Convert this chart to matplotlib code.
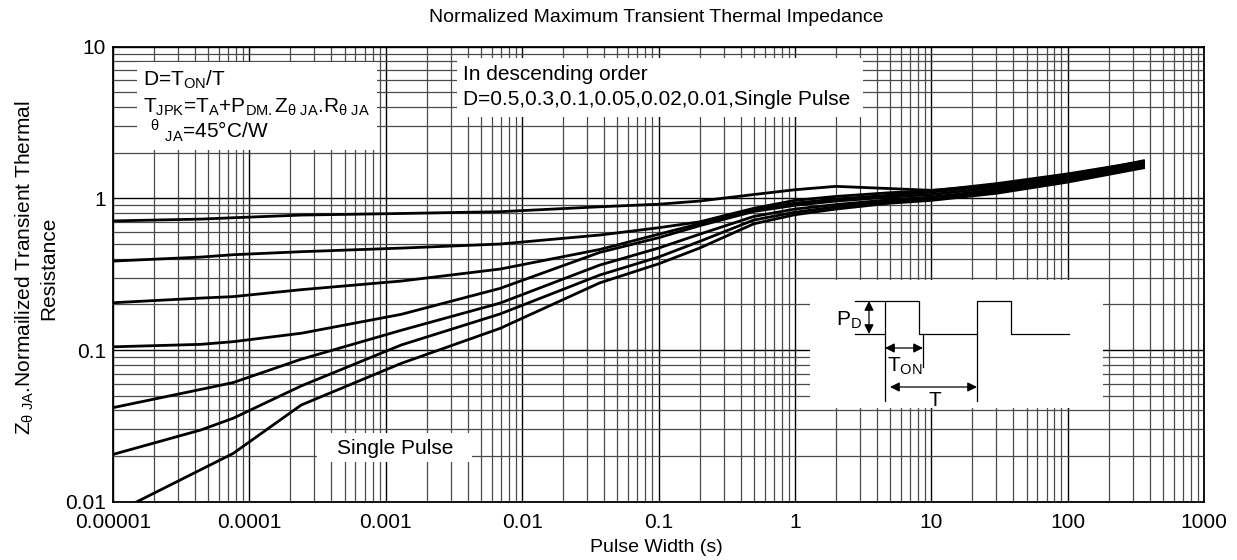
import numpy as np
import matplotlib.pyplot as plt
from matplotlib.ticker import LogLocator, NullFormatter
from matplotlib.patches import Rectangle

plt.rcParams['font.family'] = ['Liberation Sans', 'DejaVu Sans']
plt.rcParams['mathtext.fontset'] = 'custom'
plt.rcParams['mathtext.rm'] = 'Liberation Sans'
plt.rcParams['mathtext.it'] = 'Liberation Sans:italic'
plt.rcParams['mathtext.sf'] = 'Liberation Sans'

# pulse width (s)
pulse_w = [1e-5, 4.4e-5, 7.6e-5, 2.4e-4, 1.3e-3, 6.9e-3, 0.037, 0.1, 0.2, 0.5, 1, 2, 5, 10, 30, 100, 360]
z_d050 = [0.71, 0.73, 0.745, 0.776, 0.795, 0.817, 0.88, 0.915, 0.96, 1.06, 1.14, 1.2, 1.16, 1.13, 1.22, 1.40, 1.77]
z_d030 = [0.386, 0.41, 0.425, 0.445, 0.47, 0.50, 0.573, 0.64, 0.70, 0.86, 0.97, 1.03, 1.09, 1.12, 1.25, 1.45, 1.75]
z_d010 = [0.205, 0.22, 0.225, 0.25, 0.285, 0.342, 0.46, 0.58, 0.68, 0.84, 0.93, 0.99, 1.05, 1.1, 1.22, 1.42, 1.72]
z_d005 = [0.105, 0.109, 0.1135, 0.129, 0.172, 0.255, 0.44, 0.55, 0.66, 0.82, 0.90, 0.96, 1.02, 1.06, 1.18, 1.38, 1.68]
z_d002 = [0.0417, 0.055, 0.061, 0.087, 0.135, 0.204, 0.363, 0.47, 0.58, 0.76, 0.85, 0.91, 0.98, 1.02, 1.14, 1.34, 1.65]
z_d001 = [0.0205, 0.0297, 0.0355, 0.058, 0.108, 0.173, 0.312, 0.41, 0.52, 0.72, 0.81, 0.88, 0.95, 0.99, 1.11, 1.31, 1.62]

pulse_w_single = [1.5e-5, 7.6e-5, 2.4e-4, 1.3e-3, 6.9e-3, 0.037, 0.1, 0.2, 0.5, 1, 2, 5, 10, 30, 100, 360]
z_single = [0.01, 0.0208, 0.0434, 0.0817, 0.139, 0.277, 0.37, 0.47, 0.68, 0.78, 0.85, 0.93, 0.97, 1.08, 1.28, 1.59]

xtick_vals = [1e-5, 1e-4, 1e-3, 1e-2, 1e-1, 1, 10, 100, 1000]
xtick_labels = ['0.00001', '0.0001', '0.001', '0.01', '0.1', '1', '10', '100', '1000']
ytick_vals = [0.01, 0.1, 1, 10]
ytick_labels = ['0.01', '0.1', '1', '10']

W, H = 1237, 560
FS = 15
fig = plt.figure(figsize=(W / 100, H / 100), dpi=100)
ax = fig.add_axes([113 / W, (H - 501.7) / H, 1091 / W, 455 / H])
ax.set_xscale('log')
ax.set_yscale('log')
ax.set_xlim(1e-5, 1000)
ax.set_ylim(0.01, 10)

ax.xaxis.set_minor_locator(LogLocator(base=10, subs=np.arange(2, 10), numticks=100))
ax.yaxis.set_minor_locator(LogLocator(base=10, subs=np.arange(2, 10), numticks=100))
ax.xaxis.set_minor_formatter(NullFormatter())
ax.yaxis.set_minor_formatter(NullFormatter())
ax.set_xticks(xtick_vals)
ax.set_xticklabels(xtick_labels)
ax.set_yticks(ytick_vals)
ax.set_yticklabels(ytick_labels)
ax.tick_params(which='both', length=0, labelsize=FS)
ax.tick_params(axis='x', pad=8)
ax.tick_params(axis='y', pad=5)

ax.grid(True, which='major', color='black', lw=1.0)
ax.grid(True, which='minor', color='#4a4a4a', lw=0.9)
ax.set_axisbelow(True)
for s in ax.spines.values():
    s.set_linewidth(1.3)

for z in [z_d050, z_d030, z_d010, z_d005, z_d002, z_d001]:
    ax.plot(pulse_w, z, color='black', lw=2.0, zorder=3)
ax.plot(pulse_w_single, z_single, color='black', lw=2.0, zorder=3)

# white label boxes (pixel extents converted to axes fraction)
def px_box(x0, y0, x1, y1):
    return Rectangle(((x0 - 113) / 1091, (501.7 - y1) / 455), (x1 - x0) / 1091, (y1 - y0) / 455,
                     transform=ax.transAxes, facecolor='white', edgecolor='none', zorder=2)

ax.add_patch(px_box(137, 62, 377, 150))
ax.add_patch(px_box(457, 58, 863, 117))
ax.add_patch(px_box(317, 433, 472, 462))

def px_text(x, y, s, **kw):
    ax.text((x - 113) / 1091, (501.7 - y) / 455, s, transform=ax.transAxes, fontsize=FS,
            va='center', zorder=4, **kw)

px_text(143, 80, r'D=T$_{\rm ON}$/T')
px_text(143, 107, r'T$_{\rm JPK}$=T$_{\rm A}$+P$_{\rm DM.}$Z$_{\rm θ\ JA}$.R$_{\rm θ\ JA}$')
px_text(150, 131, r'$^{\rm θ}$ $_{\rm JA}$=45°C/W')
px_text(463, 74, 'In descending order')
px_text(463, 99, 'D=0.5,0.3,0.1,0.05,0.02,0.01,Single Pulse')
px_text(395, 448, 'Single Pulse', ha='center')

fig.text(656 / W, 1 - 18 / H, 'Normalized Maximum Transient Thermal Impedance', ha='center', va='center',
         fontsize=14)
fig.text(656 / W, 1 - 547 / H, 'Pulse Width (s)', ha='center', va='center', fontsize=14)
fig.text(36 / W, 1 - 268 / H, r'Z$_{\rm θ\ JA}$.Normailized Transient Thermal' + '\nResistance',
         rotation=90, ha='center', va='center', fontsize=FS, multialignment='center')

# inset pulse schematic, drawn in pixel units
ax_in = fig.add_axes([810 / W, (H - 408) / H, 293 / W, 128 / H])
ax_in.set_xlim(810, 1103)
ax_in.set_ylim(408, 280)
ax_in.set_xticks([])
ax_in.set_yticks([])
for s in ax_in.spines.values():
    s.set_visible(False)
ax_in.set_facecolor('white')

wave_x = [855, 885, 885, 919, 919, 977, 977, 1011, 1011, 1069]
wave_y = [334, 334, 301, 301, 334, 334, 301, 301, 334, 334]
ax_in.plot(wave_x, wave_y, color='black', lw=0.9)
ax_in.plot([855, 885], [301, 301], color='black', lw=0.9)
ax_in.plot([885, 885], [334, 401], color='black', lw=0.9)
ax_in.plot([977, 977], [334, 401], color='black', lw=0.9)
ax_in.plot([923, 923], [334, 367], color='black', lw=0.9)
arr = dict(arrowstyle='<|-|>', color='black', lw=0.9, mutation_scale=14, shrinkA=0, shrinkB=0)
ax_in.annotate('', xy=(869, 301), xytext=(869, 334), arrowprops=arr)
ax_in.annotate('', xy=(885, 348), xytext=(923, 348), arrowprops=arr)
ax_in.annotate('', xy=(890, 387), xytext=(977, 387), arrowprops=arr)
ax_in.text(862, 320, r'P$_{\rm D}$', ha='right', va='center', fontsize=FS)
ax_in.text(905, 366, r'T$_{\rm ON}$', ha='center', va='center', fontsize=FS)
ax_in.text(935, 400, 'T', ha='center', va='center', fontsize=FS)

fig.savefig('out.png', dpi=100)
